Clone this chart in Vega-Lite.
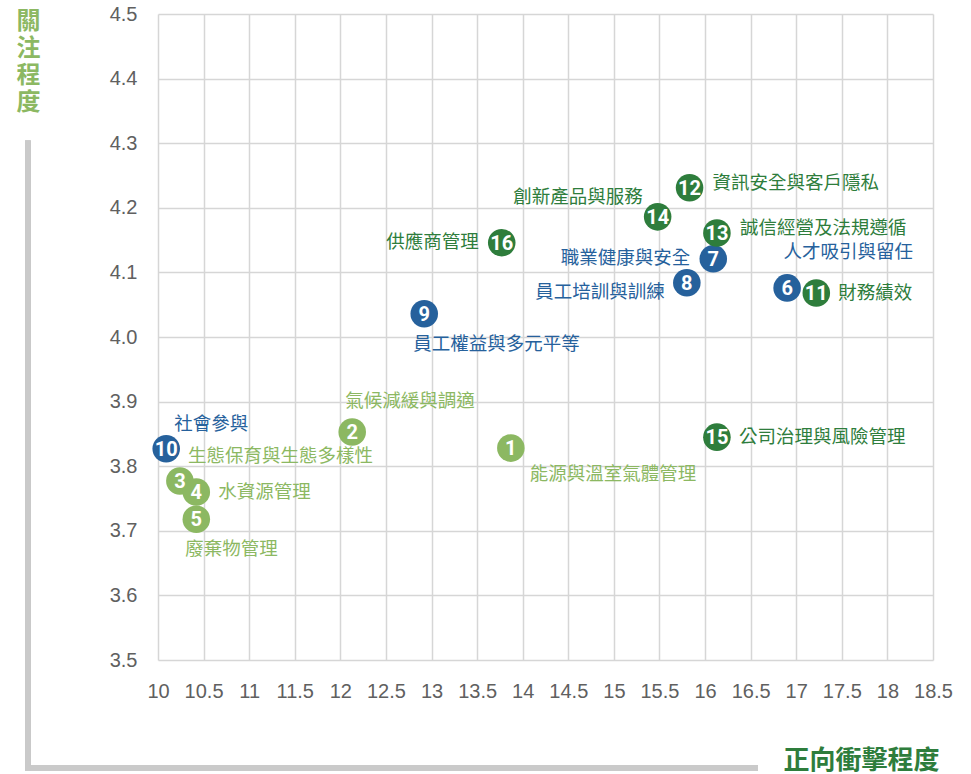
{
  "$schema": "https://vega.github.io/schema/vega-lite/v6.json",
  "width": 775,
  "height": 646,
  "autosize": {"type": "none"},
  "padding": {"left": 158, "top": 14, "right": 38, "bottom": 114},
  "background": "white",
  "config": {"view": {"stroke": null}, "font": "Noto Sans CJK TC"},
  "data": {
    "values": [
      {"id": 1, "name": "能源與溫室氣體管理", "group": "env", "impact": 13.87, "concern": 3.828, "pos": "belowright"},
      {"id": 2, "name": "氣候減緩與調適", "group": "env", "impact": 12.13, "concern": 3.853, "pos": "aboveleft"},
      {"id": 3, "name": "生態保育與生態多樣性", "group": "env", "impact": 10.24, "concern": 3.777, "pos": "above"},
      {"id": 4, "name": "水資源管理", "group": "env", "impact": 10.42, "concern": 3.760, "pos": "right"},
      {"id": 5, "name": "廢棄物管理", "group": "env", "impact": 10.42, "concern": 3.718, "pos": "below"},
      {"id": 6, "name": "人才吸引與留任", "group": "soc", "impact": 16.90, "concern": 4.076, "pos": "far"},
      {"id": 7, "name": "職業健康與安全", "group": "soc", "impact": 16.09, "concern": 4.121, "pos": "left"},
      {"id": 8, "name": "員工培訓與訓練", "group": "soc", "impact": 15.80, "concern": 4.084, "pos": "downleft"},
      {"id": 9, "name": "員工權益與多元平等", "group": "soc", "impact": 12.92, "concern": 4.036, "pos": "below"},
      {"id": 10, "name": "社會參與", "group": "soc", "impact": 10.09, "concern": 3.827, "pos": "above"},
      {"id": 11, "name": "財務績效", "group": "gov", "impact": 17.22, "concern": 4.068, "pos": "right"},
      {"id": 12, "name": "資訊安全與客戶隱私", "group": "gov", "impact": 15.83, "concern": 4.231, "pos": "upright"},
      {"id": 13, "name": "誠信經營及法規遵循", "group": "gov", "impact": 16.13, "concern": 4.161, "pos": "upright"},
      {"id": 14, "name": "創新產品與服務", "group": "gov", "impact": 15.48, "concern": 4.186, "pos": "upleft"},
      {"id": 15, "name": "公司治理與風險管理", "group": "gov", "impact": 16.13, "concern": 3.845, "pos": "right"},
      {"id": 16, "name": "供應商管理", "group": "gov", "impact": 13.77, "concern": 4.146, "pos": "left"}
    ]
  },
  "encoding": {
    "x": {
      "field": "impact", "type": "quantitative",
      "scale": {"domain": [10, 18.5], "nice": false, "zero": false},
      "axis": {
        "values": [10, 10.5, 11, 11.5, 12, 12.5, 13, 13.5, 14, 14.5, 15, 15.5, 16, 16.5, 17, 17.5, 18, 18.5],
        "format": "~g", "domain": false, "ticks": false, "grid": true, "labelOverlap": false, "labelFlush": false,
        "gridColor": "#d6d6d6", "gridWidth": 1.5,
        "labelFont": "Liberation Sans", "labelFontSize": 20, "labelColor": "#606060", "labelPadding": 21,
        "title": "正向衝擊程度", "titleFont": "Noto Sans CJK TC", "titleFontSize": 26, "titleFontWeight": "bold",
        "titleColor": "#2e7d3c", "titleX": 781, "titleY": 100, "titleAlign": "right", "titleBaseline": "middle", "titleAnchor": "end"
      }
    },
    "y": {
      "field": "concern", "type": "quantitative",
      "scale": {"domain": [3.5, 4.5], "nice": false, "zero": false},
      "axis": {
        "values": [3.5, 3.6, 3.7, 3.8, 3.9, 4.0, 4.1, 4.2, 4.3, 4.4, 4.5],
        "format": ".1f", "domain": false, "ticks": false, "grid": true, "labelOverlap": false, "labelFlush": false,
        "gridColor": "#d6d6d6", "gridWidth": 1.5,
        "labelFont": "Liberation Sans", "labelFontSize": 20, "labelColor": "#606060", "labelPadding": 21,
        "title": ["關", "注", "程", "度"], "titleFont": "Noto Sans CJK TC", "titleFontSize": 24, "titleFontWeight": "bold",
        "titleColor": "#8cb862", "titleAngle": 0, "titleX": -130, "titleY": -5, "titleAlign": "center",
        "titleBaseline": "top", "titleLineHeight": 27
      }
    },
    "color": {
      "field": "group", "type": "nominal",
      "scale": {"domain": ["env", "soc", "gov"], "range": ["#8cb862", "#26619c", "#2e7d3c"]},
      "legend": null
    }
  },
  "layer": [
    {
      "mark": {"type": "rule", "color": "#cacaca", "strokeWidth": 5, "strokeCap": "square"},
      "encoding": {"x": {"datum": 8.574}, "y": {"datum": 4.30}, "y2": {"datum": 3.333}, "color": {"value": "#cacaca"}}
    },
    {
      "mark": {"type": "rule", "color": "#cacaca", "strokeWidth": 5, "strokeCap": "square"},
      "encoding": {"y": {"datum": 3.333}, "x": {"datum": 8.574}, "x2": {"datum": 16.55}, "color": {"value": "#cacaca"}}
    },
    {"mark": {"type": "point", "shape": "circle", "filled": true, "opacity": 1, "size": 760}},
    {
      "mark": {"type": "text", "color": "white", "font": "Roboto", "fontWeight": "bold", "fontSize": 20, "baseline": "middle", "align": "center", "dy": 1},
      "encoding": {"text": {"field": "id"}, "color": {"value": "white"}}
    },
    {
      "transform": [{"filter": "datum.pos == 'right'"}],
      "mark": {"type": "text", "fontSize": 18.5, "align": "left", "baseline": "middle", "dx": 22, "dy": 0},
      "encoding": {"text": {"field": "name"}}
    },
    {
      "transform": [{"filter": "datum.pos == 'upright'"}],
      "mark": {"type": "text", "fontSize": 18.5, "align": "left", "baseline": "middle", "dx": 23, "dy": -5},
      "encoding": {"text": {"field": "name"}}
    },
    {
      "transform": [{"filter": "datum.pos == 'left'"}],
      "mark": {"type": "text", "fontSize": 18.5, "align": "right", "baseline": "middle", "dx": -23, "dy": -1},
      "encoding": {"text": {"field": "name"}}
    },
    {
      "transform": [{"filter": "datum.pos == 'downleft'"}],
      "mark": {"type": "text", "fontSize": 18.5, "align": "right", "baseline": "middle", "dx": -22, "dy": 9},
      "encoding": {"text": {"field": "name"}}
    },
    {
      "transform": [{"filter": "datum.pos == 'upleft'"}],
      "mark": {"type": "text", "fontSize": 18.5, "align": "right", "baseline": "middle", "dx": -15, "dy": -20},
      "encoding": {"text": {"field": "name"}}
    },
    {
      "transform": [{"filter": "datum.pos == 'below'"}],
      "mark": {"type": "text", "fontSize": 18.5, "align": "left", "baseline": "middle", "dx": -11, "dy": 30},
      "encoding": {"text": {"field": "name"}}
    },
    {
      "transform": [{"filter": "datum.pos == 'belowright'"}],
      "mark": {"type": "text", "fontSize": 18.5, "align": "left", "baseline": "middle", "dx": 19, "dy": 26},
      "encoding": {"text": {"field": "name"}}
    },
    {
      "transform": [{"filter": "datum.pos == 'above'"}],
      "mark": {"type": "text", "fontSize": 18.5, "align": "left", "baseline": "middle", "dx": 8, "dy": -25},
      "encoding": {"text": {"field": "name"}}
    },
    {
      "transform": [{"filter": "datum.pos == 'aboveleft'"}],
      "mark": {"type": "text", "fontSize": 18.5, "align": "left", "baseline": "middle", "dx": -7, "dy": -31},
      "encoding": {"text": {"field": "name"}}
    },
    {
      "transform": [{"filter": "datum.pos == 'far'"}],
      "mark": {"type": "text", "fontSize": 18.5, "align": "right", "baseline": "middle", "dx": 126, "dy": -36},
      "encoding": {"text": {"field": "name"}}
    }
  ]
}
